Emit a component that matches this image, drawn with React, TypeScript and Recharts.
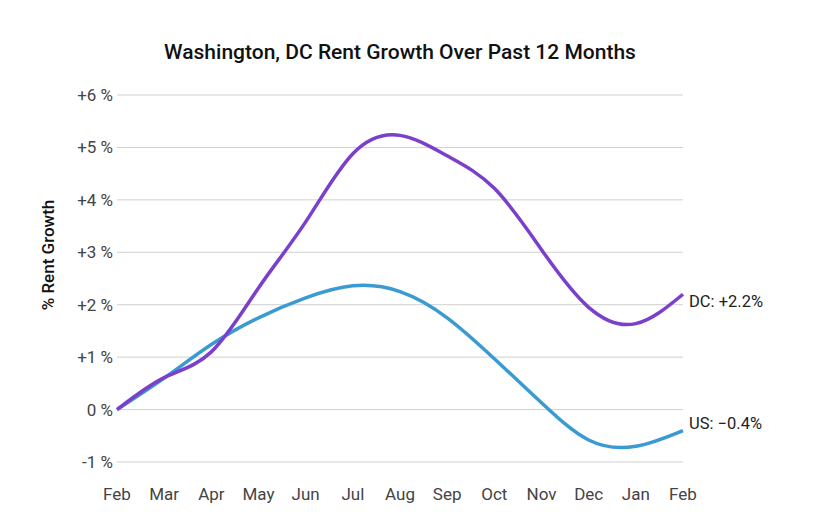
import { LineChart, Line, XAxis, YAxis, CartesianGrid, LabelList } from 'recharts';

const months = ['Feb', 'Mar', 'Apr', 'May', 'Jun', 'Jul', 'Aug', 'Sep', 'Oct', 'Nov', 'Dec', 'Jan', 'Feb'];
const dcGrowth = [0, 0.61, 1.1, 2.32, 3.58, 4.88, 5.23, 4.84, 4.22, 3.05, 1.95, 1.64, 2.2];
const usGrowth = [0, 0.6, 1.24, 1.75, 2.13, 2.36, 2.25, 1.75, 0.97, 0.13, -0.58, -0.7, -0.4];
const yTicks = [-1, 0, 1, 2, 3, 4, 5, 6];

const data = months.map((m, i) => ({ idx: i, month: m, dc: dcGrowth[i], us: usGrowth[i] }));

const fmtTick = (v: number) => (v > 0 ? `+${v} %` : `${v} %`);

const endLabel = (text: string, dy: number) => (props: any) => {
  const { x, y, index } = props;
  if (index !== data.length - 1) return null;
  return (
    <text x={x + 6} y={y + dy} fontSize={16.5} fill="#222" fontFamily="Roboto" dominantBaseline="central">
      {text}
    </text>
  );
};

const App = () => {
  return (
    <div style={{ position: 'absolute', left: 0, top: 0, width: 826, height: 529, background: '#fff', fontFamily: 'Roboto' }}>
      <div
        style={{
          position: 'absolute',
          top: 40,
          left: 0,
          width: 800,
          textAlign: 'center',
          fontSize: 21,
          fontWeight: 500,
          color: '#111',
        }}
      >
        Washington, DC Rent Growth Over Past 12 Months
      </div>
      <LineChart
        width={826}
        height={529}
        data={data}
        margin={{ top: 95, right: 143, bottom: 37, left: 57 }}
      >
        <CartesianGrid stroke="#d0d0d0" vertical={false} />
        <XAxis
          dataKey="idx"
          type="number"
          domain={[0, 12]}
          ticks={months.map((_, i) => i)}
          tickFormatter={(i: number) => months[i]}
          axisLine={false}
          tickLine={false}
          tick={{ fontSize: 17, fill: '#444', fontFamily: 'Roboto' }}
          tickMargin={20}
          interval={0}
        />
        <YAxis
          domain={[-1, 6]}
          ticks={yTicks}
          tickFormatter={fmtTick}
          axisLine={false}
          tickLine={false}
          tickSize={0}
          width={60}
          tick={{ fontSize: 17, fill: '#444', fontFamily: 'Roboto' }}
          tickMargin={4}
        />
        <text
          x={48}
          y={255}
          transform="rotate(-90 48 255)"
          textAnchor="middle"
          dominantBaseline="central"
          fontSize={17}
          fontWeight={500}
          fill="#111"
          fontFamily="Roboto"
        >
          % Rent Growth
        </text>
        <Line
          type="natural"
          dataKey="us"
          stroke="#3a9bd2"
          strokeWidth={3.5}
          dot={false}
          isAnimationActive={false}
        >
          <LabelList dataKey="us" content={endLabel('US: \u22120.4%', -7)} />
        </Line>
        <Line
          type="natural"
          dataKey="dc"
          stroke="#7a3fcb"
          strokeWidth={3.5}
          dot={false}
          isAnimationActive={false}
        >
          <LabelList dataKey="dc" content={endLabel('DC: +2.2%', 7)} />
        </Line>
      </LineChart>
    </div>
  );
};

export default App;
